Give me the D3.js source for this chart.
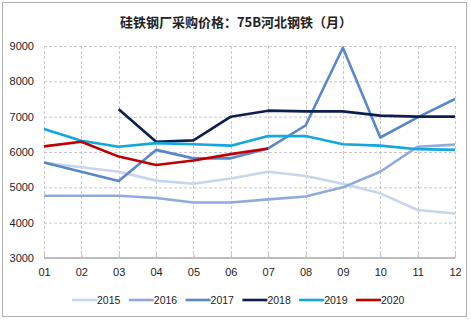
<!DOCTYPE html>
<html><head><meta charset="utf-8">
<script src="https://cdn.jsdelivr.net/npm/d3@7"></script>
<style>body{margin:0;background:#fff}svg{display:block}</style>
</head><body>
<script>
const months = ["01","02","03","04","05","06","07","08","09","10","11","12"];
const yTicks = [3000,4000,5000,6000,7000,8000,9000];
const years = ["2015","2016","2017","2018","2019","2020"];
const colors = ["#c6d7ec","#8fabdb","#5a87c8","#0c1f4f","#13a7df","#c00000"];
const s2015 = [5700,5570,5440,5190,5100,5250,5440,5320,5100,4830,4360,4260];
const s2016 = [4760,4760,4760,4700,4570,4570,4660,4740,5000,5440,6150,6210];
const s2017 = [5700,5440,5180,6060,5820,5820,6100,6750,8950,6410,6980,7500];
const s2018 = [null,null,7210,6290,6330,7000,7170,7150,7150,7030,7000,7000];
const s2019 = [6650,6320,6150,6250,6220,6180,6450,6450,6220,6180,6080,6060];
const s2020 = [6160,6290,5870,5630,5760,5940,6100,null,null,null,null,null];
const series = [s2015,s2016,s2017,s2018,s2019,s2020];
const title = "硅铁钢厂采购价格：75B河北钢铁（月）";

const W=471,H=321;
const svg=d3.select("body").append("svg").attr("width",W).attr("height",H);
svg.append("rect").attr("x",2.5).attr("y",2.5).attr("width",464).attr("height",314)
  .attr("fill","#fff").attr("stroke","#b0b0b0").attr("stroke-width",1);

const x=d3.scalePoint().domain(months).range([44,455]);
const y=d3.scaleLinear().domain([3000,9000]).range([258,46]);
const font="'Microsoft YaHei','Noto Sans CJK SC','DejaVu Sans',sans-serif";

svg.append("text").attr("x",236).attr("y",27).attr("text-anchor","middle")
  .attr("font-family","'Noto Sans CJK SC',sans-serif").attr("font-weight","bold")
  .attr("font-size",13).attr("fill","#222").text(title);

// grid
const g=svg.append("g");
g.selectAll("line.h").data(yTicks.filter(d=>d>3000)).join("line")
  .attr("x1",44).attr("x2",455).attr("y1",d=>y(d)+0.5).attr("y2",d=>y(d)+0.5)
  .attr("stroke","#c8c8c8").attr("stroke-dasharray","3,2");
g.selectAll("line.v").data(months).join("line")
  .attr("x1",d=>Math.round(x(d))+0.5).attr("x2",d=>Math.round(x(d))+0.5)
  .attr("y1",y(9000)).attr("y2",y(3000))
  .attr("stroke","#c8c8c8").attr("stroke-dasharray","3,2");

// y axis labels
const ya=svg.append("g").attr("transform","translate(34,0)")
  .call(d3.axisLeft(y).tickValues(yTicks).tickSize(0).tickPadding(0).tickFormat(d3.format("d")));
ya.select(".domain").remove();
ya.selectAll("text").attr("font-family","Liberation Sans, Arial, sans-serif").attr("font-size",11).attr("fill","#222");

// x axis
const xa=svg.append("g").attr("transform",`translate(0,${y(3000)})`)
  .call(d3.axisBottom(x).tickSize(0).tickPadding(10));
xa.select(".domain").attr("stroke","#bdbdbd").attr("stroke-width",2).attr("d","M44,0H455");
xa.selectAll("text").attr("font-family","Liberation Sans, Arial, sans-serif").attr("font-size",11).attr("fill","#222");
xa.selectAll(".tick").append("line").attr("y1",-1).attr("y2",-4).attr("stroke","#bdbdbd");

// lines
const line=d3.line().defined(d=>d.v!=null).x(d=>x(d.m)).y(d=>y(d.v));
series.forEach((s,i)=>{
  svg.append("path").datum(s.map((v,j)=>({m:months[j],v})))
    .attr("d",line).attr("fill","none").attr("stroke",colors[i])
    .attr("stroke-width",2.6).attr("stroke-linejoin","round");
});

// legend
const lg=svg.append("g");
years.forEach((yr,i)=>{
  const lx=72+i*56.8, ly=300;
  lg.append("line").attr("x1",lx).attr("x2",lx+25).attr("y1",ly).attr("y2",ly)
    .attr("stroke",colors[i]).attr("stroke-width",2.6);
  lg.append("text").attr("x",lx+25).attr("y",ly+4).attr("font-family","Liberation Sans, Arial, sans-serif")
    .attr("font-size",10.5).attr("fill","#222").text(yr);
});
</script>
</body></html>
